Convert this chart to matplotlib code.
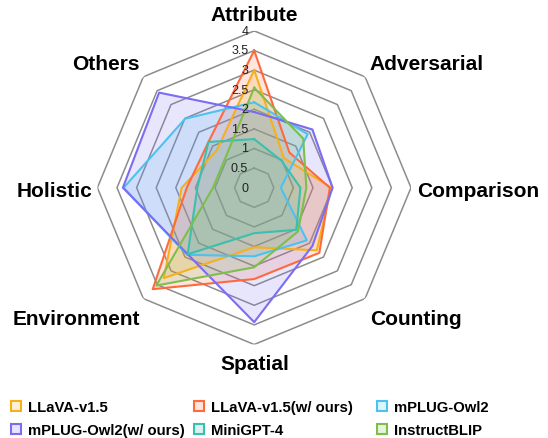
import numpy as np
import matplotlib
matplotlib.use('Agg')
import matplotlib.pyplot as plt
from matplotlib.lines import Line2D
from matplotlib.colors import to_rgba
from matplotlib import transforms

plt.rcParams['font.family'] = ['Liberation Sans', 'DejaVu Sans']

# axes of the radar, clockwise from the top
categories = ['Attribute', 'Adversarial', 'Comparison', 'Counting',
              'Spatial', 'Environment', 'Holistic', 'Others']

# scores
llava = [3.0, 1.07, 1.97, 2.26, 1.52, 3.26, 1.85, 1.35]
llava_ours = [3.5, 1.27, 1.93, 2.35, 2.33, 3.66, 1.72, 1.65]
mplug = [2.18, 1.93, 0.68, 1.9, 1.75, 2.42, 3.33, 2.49]
mplug_ours = [1.93, 2.1, 2.0, 2.1, 3.43, 2.4, 3.35, 3.43]
minigpt4 = [1.24, 0.98, 1.18, 1.52, 1.16, 2.4, 1.45, 1.65]
instructblip = [2.55, 1.77, 1.33, 1.58, 2.03, 3.53, 1.05, 1.05]

series_names = ['LLaVA-v1.5', 'LLaVA-v1.5(w/ ours)', 'mPLUG-Owl2',
                'mPLUG-Owl2(w/ ours)', 'MiniGPT-4', 'InstructBLIP']
series_values = [llava, llava_ours, mplug, mplug_ours, minigpt4, instructblip]
colors = ['#F5B01E', '#FF6A3D', '#4CC2EE', '#7B6CF4', '#3CBFAD', '#7DBF4A']

ring_values = [0, 0.5, 1, 1.5, 2, 2.5, 3, 3.5, 4]
ring_labels = ['0', '0.5', '1', '1.5', '2', '2.5', '3', '3.5', '4']

W, H = 548, 439
fig = plt.figure(figsize=(W / 100, H / 100), dpi=100)

# centre of the radar at (254, 189) px, radius 157 px
cx, cy, R = 254.2, 188.7, 156.8
ax = fig.add_axes([(cx - R) / W, (H - cy - R) / H, 2 * R / W, 2 * R / H],
                  projection='polar')
ax.set_theta_offset(np.pi / 2)
ax.set_theta_direction(-1)
ax.set_ylim(0, 4)
ax.set_xticks([])
ax.set_yticks([])
ax.grid(False)
ax.spines['polar'].set_visible(False)
ax.patch.set_alpha(0)

n = len(categories)
angles = np.linspace(0, 2 * np.pi, n, endpoint=False)
ang_closed = np.append(angles, angles[0])

# octagon grid
for r in ring_values[1:]:
    ax.plot(ang_closed, [r] * (n + 1), color='#8c8c8c', lw=1.1, zorder=0.5)

# radial tick labels just left of the vertical axis
lab_tr = transforms.offset_copy(ax.transData, fig=fig, x=-6, y=0, units='dots')
for r, t in zip(ring_values, ring_labels):
    ax.text(0, r, t, transform=lab_tr, ha='right', va='center',
            fontsize=9, color='#222222', zorder=5)

for vals, c in zip(series_values, colors):
    v = np.append(vals, vals[0])
    ax.fill(ang_closed, v, color=c, alpha=0.17, lw=0, zorder=2)
    ax.plot(ang_closed, v, color=c, lw=1.5, zorder=3)

# category labels (pixel positions of their baselines)
label_pos = {
    'Attribute': (254, 21, 'center'),
    'Adversarial': (427, 70, 'center'),
    'Comparison': (478, 197, 'center'),
    'Counting': (416, 325, 'center'),
    'Spatial': (255, 370, 'center'),
    'Environment': (76, 325, 'center'),
    'Holistic': (55, 197, 'center'),
    'Others': (106, 70, 'center'),
}
for name in categories:
    x, y, ha = label_pos[name]
    fig.text(x / W, 1 - y / H, name, ha=ha, va='baseline',
             fontsize=15, fontweight='bold', color='black')

# legend: three columns of two entries
handles = [Line2D([], [], marker='s', ls='none', markersize=7.5,
                  markerfacecolor=to_rgba(c, 0.18), markeredgecolor=c,
                  markeredgewidth=1.5) for c in colors]
col_x = [10.5, 193.5, 376.5]
for k in range(3):
    idx = [k, k + 3]
    fig.legend([handles[i] for i in idx], [series_names[i] for i in idx],
               loc='upper left', bbox_to_anchor=(col_x[k] / W, 1 - 401 / H),
               frameon=False, prop={'weight': 'bold', 'size': 10.7},
               handlelength=0.8, handletextpad=0.4, labelspacing=0.62,
               borderpad=0, borderaxespad=0)

fig.savefig('out.png', dpi=100)
